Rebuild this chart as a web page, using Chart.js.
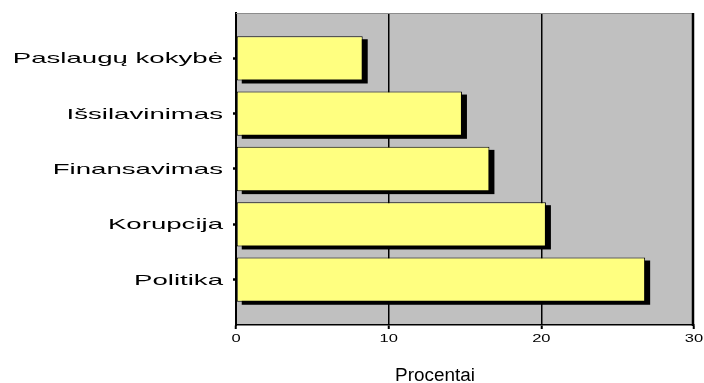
<!DOCTYPE html>
<html>
<head>
<meta charset="utf-8">
<script src="https://cdn.jsdelivr.net/npm/chart.js@4/dist/chart.umd.min.js"></script>
<style>
  html, body { margin: 0; padding: 0; background: #fff; }
</style>
</head>
<body>
<canvas id="c" width="704" height="383"></canvas>
<script>
// Problems named by respondents, share in percent
const categories = ['Paslaugų kokybė', 'Išsilavinimas', 'Finansavimas', 'Korupcija', 'Politika'];
const percentValues = [8.3, 14.8, 16.6, 20.3, 26.8];
const xTickValues = [0, 10, 20, 30];
const axisTitle = 'Procentai';

const FONT = '"Liberation Sans", Arial, sans-serif';

// Text drawn with a horizontal stretch, like the wide lettering of the old office chart
function stretchedText(ctx, text, x, y, size, sx, align) {
  ctx.save();
  ctx.font = size + 'px ' + FONT;
  ctx.fillStyle = '#000';
  ctx.textAlign = align;
  ctx.textBaseline = 'alphabetic';
  ctx.translate(x, y);
  ctx.scale(sx, 1);
  ctx.fillText(text, 0, 0);
  ctx.restore();
}

const framePlugin = {
  id: 'frame',
  beforeDraw(chart) {
    const { ctx, chartArea: a } = chart;
    ctx.save();
    ctx.fillStyle = '#c0c0c0';
    ctx.fillRect(a.left, a.top, a.right - a.left, a.bottom - a.top);
    ctx.restore();
  },
  beforeDatasetsDraw(chart) {
    // solid drop shadow behind every bar
    const ctx = chart.ctx;
    const meta = chart.getDatasetMeta(0);
    ctx.save();
    ctx.fillStyle = '#000';
    meta.data.forEach(bar => {
      const { x, y, base, height } = bar.getProps(['x', 'y', 'base', 'height'], true);
      ctx.fillRect(Math.min(x, base) + 5, y - height / 2 + 3, Math.abs(x - base), height);
    });
    ctx.restore();
  },
  afterDraw(chart) {
    const { ctx, chartArea: a, scales } = chart;
    ctx.save();
    ctx.strokeStyle = '#8c8c8c';
    ctx.lineWidth = 1;
    ctx.beginPath();
    ctx.moveTo(a.left, a.top + 0.5);
    ctx.lineTo(a.right, a.top + 0.5);
    ctx.stroke();
    ctx.strokeStyle = '#000';
    ctx.lineWidth = 2.5;
    ctx.beginPath();
    ctx.moveTo(a.right - 1, a.top);
    ctx.lineTo(a.right - 1, a.bottom + 1);
    ctx.stroke();
    ctx.restore();

    scales.y.ticks.forEach(t => {
      stretchedText(ctx, categories[t.value], 223, scales.y.getPixelForValue(t.value) + 5, 15, 1.84, 'right');
    });
    scales.x.ticks.forEach(t => {
      const label = t.label !== undefined ? String(t.label) : String(t.value);
      stretchedText(ctx, label, scales.x.getPixelForValue(t.value), 342, 11, 1.5, 'center');
    });
    stretchedText(ctx, axisTitle, 435, 381, 18, 1.05, 'center');
  }
};

new Chart(document.getElementById('c'), {
  type: 'bar',
  data: {
    datasets: [{
      data: categories.map((c, i) => ({ x: percentValues[i], y: i })),
      backgroundColor: '#ffff80',
      borderColor: '#000',
      borderWidth: 1,
      borderSkipped: false,
      categoryPercentage: 1,
      barPercentage: 0.8
    }]
  },
  options: {
    indexAxis: 'y',
    responsive: false,
    animation: false,
    devicePixelRatio: 1,
    layout: { padding: { top: 13, right: 10, left: 0, bottom: 0 } },
    plugins: { legend: { display: false }, tooltip: { enabled: false } },
    scales: {
      x: {
        type: 'linear',
        min: 0,
        max: 30,
        ticks: { display: false, stepSize: 10 },
        afterBuildTicks: s => { s.ticks = xTickValues.map(v => ({ value: v })); },
        grid: {
          color: c => (c.tick && (c.tick.value === 0 || c.tick.value === 30)) ? 'rgba(0,0,0,0)' : '#000',
          lineWidth: 1.5,
          drawTicks: true,
          tickLength: 4,
          tickColor: '#000',
          tickWidth: 2
        },
        border: { color: '#000', width: 1.5 },
        afterFit: s => { s.height = 58; }
      },
      y: {
        type: 'linear',
        reverse: true,
        offset: false,
        min: -0.82,
        max: 4.82,
        afterBuildTicks: s => { s.ticks = categories.map((c, i) => ({ value: i })); },
        ticks: { display: false },
        grid: { offset: false, drawOnChartArea: false, drawTicks: true, tickLength: 3, tickWidth: 2.5, tickColor: '#000' },
        border: { color: '#000', width: 2 },
        afterFit: s => { s.width = 236; }
      }
    }
  },
  plugins: [framePlugin]
});
</script>
</body>
</html>
